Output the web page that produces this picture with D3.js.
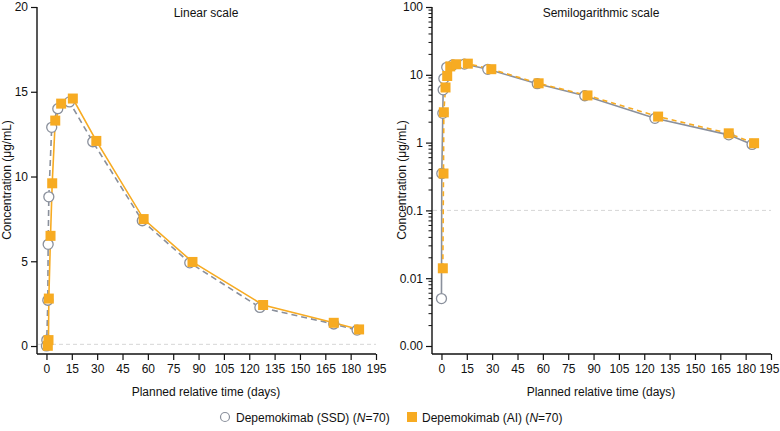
<!DOCTYPE html>
<html>
<head>
  <meta charset="utf-8">
  <script src="https://d3js.org/d3.v7.min.js"></script>
  <style>
    body { margin: 0; background: #fff; }
    text { font-family: "Liberation Sans", Arial, sans-serif; fill: #111; }
  </style>
</head>
<body>
<script>
  // SSD (open circles)
  var ssdTime = [0, 0.2, 0.8, 1.0, 1.4, 3.1, 6.7, 13.6, 27.4, 56.7, 84.8, 126.3, 170, 183.8];
  var ssdConc = [0.005, 0.35, 2.7, 6.0, 8.8, 12.9, 14.0, 14.4, 12.05, 7.39, 4.91, 2.28, 1.30, 0.94];
  // AI (filled squares)
  var aiTime = [0.8, 1.2, 1.4, 2.4, 3.4, 5.2, 8.7, 15.6, 29.5, 57.5, 86.4, 128.2, 170, 185];
  var aiConc = [0.014, 0.35, 2.8, 6.5, 9.6, 13.3, 14.3, 14.6, 12.1, 7.49, 4.96, 2.42, 1.37, 0.98];

  var xTicks = d3.range(0, 196, 15);
  var linTicks = [0, 5, 10, 15, 20];
  var logTicks = [0.001, 0.01, 0.1, 1, 10, 100];
  var logLabels = ["0.00", "0.01", "0.1", "1", "10", "100"];
  var lloq = 0.1;

  var grey = "#8a909c", orange = "#f7ab22";

  var ssd = ssdTime.map(function (t, i) { return { t: t, c: ssdConc[i] }; });
  var ai = aiTime.map(function (t, i) { return { t: t, c: aiConc[i] }; });

  var svg = d3.select("body").append("svg")
      .attr("width", 780).attr("height", 431);

  function panel(opt) {
    var g = svg.append("g");
    var x = d3.scaleLinear().domain([-5.6, 195]).range([opt.left, opt.left + 339]);
    var y = opt.y;

    // LLOQ dashed line
    g.append("line")
      .attr("x1", opt.left + 1).attr("x2", x(195))
      .attr("y1", y(lloq)).attr("y2", y(lloq))
      .attr("stroke", "#d6d6d6").attr("stroke-width", 1)
      .attr("stroke-dasharray", "4,3");

    // x axis
    var xa = g.append("g").attr("transform", "translate(0,354)")
      .call(d3.axisBottom(x).tickValues(xTicks).tickSize(6).tickPadding(4));
    // y axis
    var ya = g.append("g").attr("transform", "translate(" + opt.left + ",0)")
      .call(opt.axis);
    [xa, ya].forEach(function (a) {
      a.select(".domain").attr("stroke", "#111").attr("stroke-width", 1.4);
      a.selectAll(".tick line").attr("stroke", "#111").attr("stroke-width", 1.2);
      a.selectAll("text").style("font-size", "12px")
        .style("font-family", "Liberation Sans, Arial, sans-serif").attr("fill", "#111");
    });
    xa.select(".domain").attr("d", "M" + opt.left + ",0H" + x(195));
    ya.select(".domain").attr("d", "M0," + y(opt.top) + "V354");
    if (opt.log) {
      xa.selectAll(".tick text").filter(function (d) { return d === 195; })
        .attr("text-anchor", "end").attr("dx", "0.65em");
    }

    if (opt.minor) {
      g.append("g").selectAll("line").data(opt.minor).join("line")
        .attr("x1", opt.left - 3.5).attr("x2", opt.left)
        .attr("y1", function (d) { return y(d); })
        .attr("y2", function (d) { return y(d); })
        .attr("stroke", "#111").attr("stroke-width", 1);
    }

    var line = d3.line().x(function (d) { return x(d.t); }).y(function (d) { return y(d.c); });

    g.append("path").datum(ssd).attr("d", line).attr("fill", "none")
      .attr("stroke", grey).attr("stroke-width", 1.6)
      .attr("stroke-dasharray", opt.log ? null : "6,4");
    g.append("path").datum(ai).attr("d", line).attr("fill", "none")
      .attr("stroke", orange).attr("stroke-width", 1.6)
      .attr("stroke-dasharray", opt.log ? "5,4" : null);

    g.append("g").selectAll("circle").data(ssd).join("circle")
      .attr("cx", function (d) { return x(d.t); })
      .attr("cy", function (d) { return y(d.c); })
      .attr("r", 5).attr("fill", "#fff")
      .attr("stroke", grey).attr("stroke-width", 1.3);
    g.append("g").selectAll("rect").data(ai).join("rect")
      .attr("x", function (d) { return x(d.t) - 5; })
      .attr("y", function (d) { return y(d.c) - 5; })
      .attr("width", 10).attr("height", 10)
      .attr("fill", orange);

    g.append("text").attr("x", opt.cx).attr("y", 17)
      .attr("text-anchor", "middle").style("font-size", "12px").text(opt.title);
    g.append("text").attr("x", opt.cx).attr("y", 396)
      .attr("text-anchor", "middle").style("font-size", "12px").text("Planned relative time (days)");
    g.append("text")
      .attr("transform", "translate(" + (opt.left - 26) + ",180) rotate(-90)")
      .attr("text-anchor", "middle").style("font-size", "12px").text("Concentration (\u03bcg/mL)");
  }

  var yLin = d3.scaleLinear().domain([-0.47, 20]).range([354, 7]);
  panel({
    left: 37, cx: 206, title: "Linear scale", y: yLin, top: 20, log: false,
    axis: d3.axisLeft(yLin).tickValues(linTicks).tickSize(6).tickPadding(3)
  });

  var yLog = d3.scaleLog().domain([Math.pow(10, -3.118), 100]).range([354, 7]);
  var minor = [];
  [0.001, 0.01, 0.1, 1, 10].forEach(function (b) {
    for (var k = 2; k <= 9; k++) minor.push(b * k);
  });
  panel({
    left: 432, cx: 601, title: "Semilogarithmic scale", y: yLog, top: 100, log: true,
    minor: minor,
    axis: d3.axisLeft(yLog).tickValues(logTicks)
      .tickFormat(function (d, i) { return logLabels[i]; }).tickSize(6).tickPadding(3)
  });

  // legend
  var lg = svg.append("g").attr("transform", "translate(0,417)");
  lg.append("circle").attr("cx", 225).attr("cy", 0).attr("r", 4.5)
    .attr("fill", "#fff").attr("stroke", grey).attr("stroke-width", 1.2);
  var t1 = lg.append("text").attr("x", 236).attr("y", 4.5).style("font-size", "12px");
  t1.append("tspan").text("Depemokimab (SSD) (");
  t1.append("tspan").style("font-style", "italic").text("N");
  t1.append("tspan").text("=70)");
  lg.append("rect").attr("x", 407).attr("y", -5).attr("width", 10).attr("height", 10).attr("fill", orange);
  var t2 = lg.append("text").attr("x", 422).attr("y", 4.5).style("font-size", "12px");
  t2.append("tspan").text("Depemokimab (AI) (");
  t2.append("tspan").style("font-style", "italic").text("N");
  t2.append("tspan").text("=70)");
</script>
</body>
</html>
